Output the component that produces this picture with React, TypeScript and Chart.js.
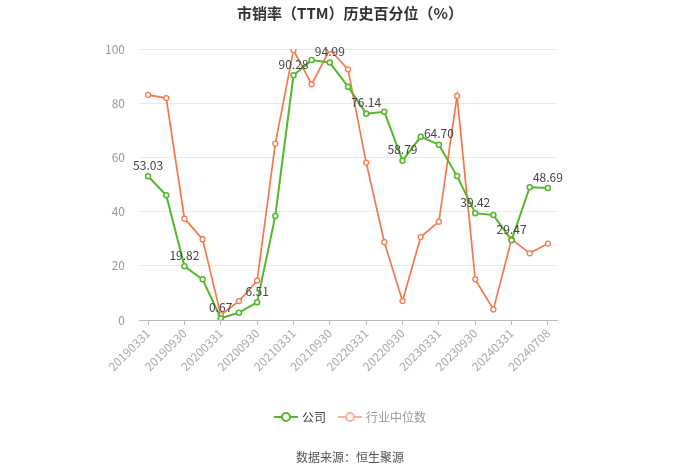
import React, { useEffect, useRef } from "react";
import { Chart, registerables } from "chart.js";

Chart.register(...registerables);

const dates = [
  "20190331", "20190630", "20190930", "20191231",
  "20200331", "20200630", "20200930", "20201231",
  "20210331", "20210630", "20210930", "20211231",
  "20220331", "20220630", "20220930", "20221231",
  "20230331", "20230630", "20230930", "20231231",
  "20240331", "20240630", "20240708",
];
const company = [
  53.03, 46.0, 19.82, 15.0, 0.67, 2.7, 6.51, 38.4,
  90.28, 95.9, 94.99, 86.1, 76.14, 76.8, 58.79, 67.6,
  64.7, 53.1, 39.42, 38.7, 29.47, 49.0, 48.69,
];
const industry = [
  83.1, 81.9, 37.4, 29.8, 1.8, 7.0, 14.5, 65.1,
  99.6, 87.0, 99.8, 92.5, 58.1, 28.7, 7.0, 30.6,
  36.3, 82.7, 15.0, 3.9, 29.8, 24.6, 28.2,
];
const yTicks = [0, 20, 40, 60, 80, 100];
const seriesNames = ["公司", "行业中位数"];
const titleText = "市销率（TTM）历史百分位（%）";
const sourceText = "数据来源：恒生聚源";

const GREEN = "#52b82a";
const ORANGE = "#f5784a";
const FONT = "'Noto Sans CJK SC', 'Noto Sans', sans-serif";

const decorPlugin = {
  id: "decor",
  afterDatasetsDraw(chart: any) {
    const ctx = chart.ctx;
    const meta = chart.getDatasetMeta(0);
    ctx.save();
    ctx.font = `12px ${FONT}`;
    ctx.fillStyle = "#444";
    ctx.textAlign = "center";
    ctx.textBaseline = "bottom";
    meta.data.forEach((pt: any, i: number) => {
      if (i % 2 !== 0) return;
      ctx.fillText(company[i].toFixed(2), pt.x, pt.y - 5);
    });
    ctx.restore();
  },
  afterDraw(chart: any) {
    const ctx = chart.ctx;
    const W = chart.width;
    ctx.save();
    ctx.textAlign = "center";
    ctx.textBaseline = "middle";
    ctx.font = `bold 15px ${FONT}`;
    ctx.fillStyle = "#333";
    ctx.fillText(titleText, W / 2, 13);

    ctx.font = `12px ${FONT}`;
    ctx.fillStyle = "#555";
    ctx.fillText(sourceText, W / 2, 457);

    // legend
    const ly = 417;
    const items = [
      { name: seriesNames[0], color: GREEN, text: "#444" },
      { name: seriesNames[1], color: "#f7b29a", text: "#999" },
    ];
    ctx.font = `12px ${FONT}`;
    const symW = 24;
    const gap = 4;
    const itemGap = 12;
    const widths = items.map((it) => symW + gap + ctx.measureText(it.name).width);
    const total = widths.reduce((a, b) => a + b, 0) + itemGap;
    let x = W / 2 - total / 2;
    items.forEach((it, k) => {
      ctx.strokeStyle = it.color;
      ctx.lineWidth = 2;
      ctx.beginPath();
      ctx.moveTo(x, ly);
      ctx.lineTo(x + symW, ly);
      ctx.stroke();
      ctx.beginPath();
      ctx.arc(x + symW / 2, ly, 4, 0, Math.PI * 2);
      ctx.fillStyle = "#fff";
      ctx.fill();
      ctx.stroke();
      ctx.fillStyle = it.text;
      ctx.textAlign = "left";
      ctx.fillText(it.name, x + symW + gap, ly);
      x += widths[k] + itemGap;
    });
    ctx.restore();
  },
};

export default function App() {
  const ref = useRef<HTMLCanvasElement>(null);
  useEffect(() => {
    document.body.style.margin = "0";
    const chart = new Chart(ref.current!, {
      type: "line",
      data: {
        labels: dates,
        datasets: [
          {
            label: seriesNames[0],
            data: company,
            borderColor: GREEN,
            backgroundColor: "#fff",
            borderWidth: 2,
            pointRadius: 2.5,
            pointBorderWidth: 1.5,
            pointBackgroundColor: "#fff",
            pointBorderColor: GREEN,
            tension: 0,
            order: 0,
          },
          {
            label: seriesNames[1],
            data: industry,
            borderColor: ORANGE,
            backgroundColor: "#fff",
            borderWidth: 1.7,
            pointRadius: 2.5,
            pointBorderWidth: 1.3,
            pointBackgroundColor: "#fff",
            pointBorderColor: ORANGE,
            tension: 0,
            order: 1,
          },
        ],
      },
      options: {
        responsive: false,
        animation: false,
        events: [],
        layout: { padding: { left: 0, right: 143, top: 49, bottom: 94 } },
        plugins: {
          legend: { display: false },
          title: { display: false },
          tooltip: { enabled: false },
        },
        scales: {
          x: {
            offset: true,
            afterFit: (s: any) => { s.height = 60; },
            border: { color: "#bbb" },
            grid: {
              drawOnChartArea: false,
              drawTicks: true,
              tickLength: 5,
              color: (c: any) => (c.index % 2 === 0 ? "#bbb" : "rgba(0,0,0,0)"),
            },
            ticks: {
              autoSkip: false,
              minRotation: 45,
              maxRotation: 45,
              color: "#aaa",
              font: { size: 12, family: FONT },
              padding: 1,
              callback: (_v: any, i: number) => (i % 2 === 0 ? dates[i] : ""),
            },
          },
          y: {
            min: 0,
            max: 100,
            afterFit: (s: any) => { s.width = 139; },
            afterBuildTicks: (s: any) => { s.ticks = yTicks.map((v) => ({ value: v })); },
            border: { display: false },
            grid: { color: "#e8e8e8", drawTicks: false },
            ticks: {
              color: "#999",
              font: { size: 12, family: FONT },
              padding: 14,
            },
          },
        },
      },
      plugins: [decorPlugin],
    });
    return () => chart.destroy();
  }, []);
  return <canvas ref={ref} width={700} height={474} style={{ display: "block" }} />;
}
